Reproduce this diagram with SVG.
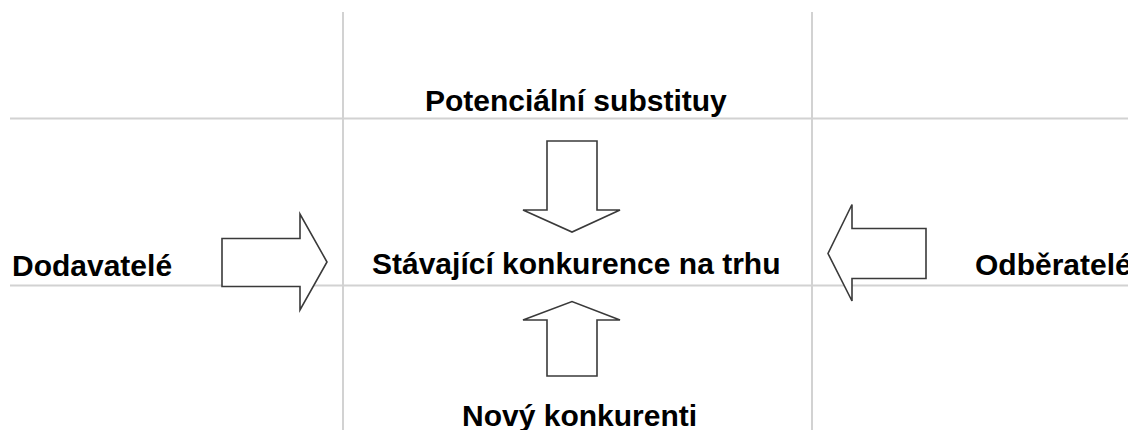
<svg xmlns="http://www.w3.org/2000/svg" width="1128" height="430" viewBox="0 0 1128 430">
<style>
.grid{stroke:#d2d2d2;stroke-width:2;fill:none}
.arrow{fill:#ffffff;stroke:#3a3a3a;stroke-width:1.6;stroke-linejoin:miter}
.lbl{font-family:"Liberation Sans",Arial,sans-serif;font-weight:bold;font-size:30px;fill:#000}
</style>
<rect width="1128" height="430" fill="#ffffff"/>
<g id="grid">
<line class="grid" x1="10" y1="118.5" x2="1128" y2="118.5"/>
<line class="grid" x1="10" y1="285.5" x2="1128" y2="285.5"/>
<line class="grid" x1="343" y1="12" x2="343" y2="430"/>
<line class="grid" x1="812" y1="12" x2="812" y2="430"/>
</g>
<g id="connectors">
<polygon class="arrow" points="222,238.5 300,238.5 300,214 327,262 300,310 300,286.5 222,286.5"/>
<polygon class="arrow" points="926,228.5 852,228.5 852,204.5 828,253.5 852,301 852,278.5 926,278.5"/>
<polygon class="arrow" points="547,141 597,141 597,210 620,210 572,232 523,210 547,210"/>
<polygon class="arrow" points="547,376 597,376 597,320 620,320 572,301.5 523,320 547,320"/>
</g>
<g id="node-substituty"><text class="lbl" x="425" y="111">Potenciální substituy</text></g>
<g id="node-stavajici"><text class="lbl" x="372" y="274">Stávající konkurence na trhu</text></g>
<g id="node-dodavatele"><text class="lbl" x="12" y="276">Dodavatelé</text></g>
<g id="node-odberatele"><text class="lbl" x="975" y="275">Odběratelé</text></g>
<g id="node-novy"><text class="lbl" x="462" y="426">Nový konkurenti</text></g>
</svg>
